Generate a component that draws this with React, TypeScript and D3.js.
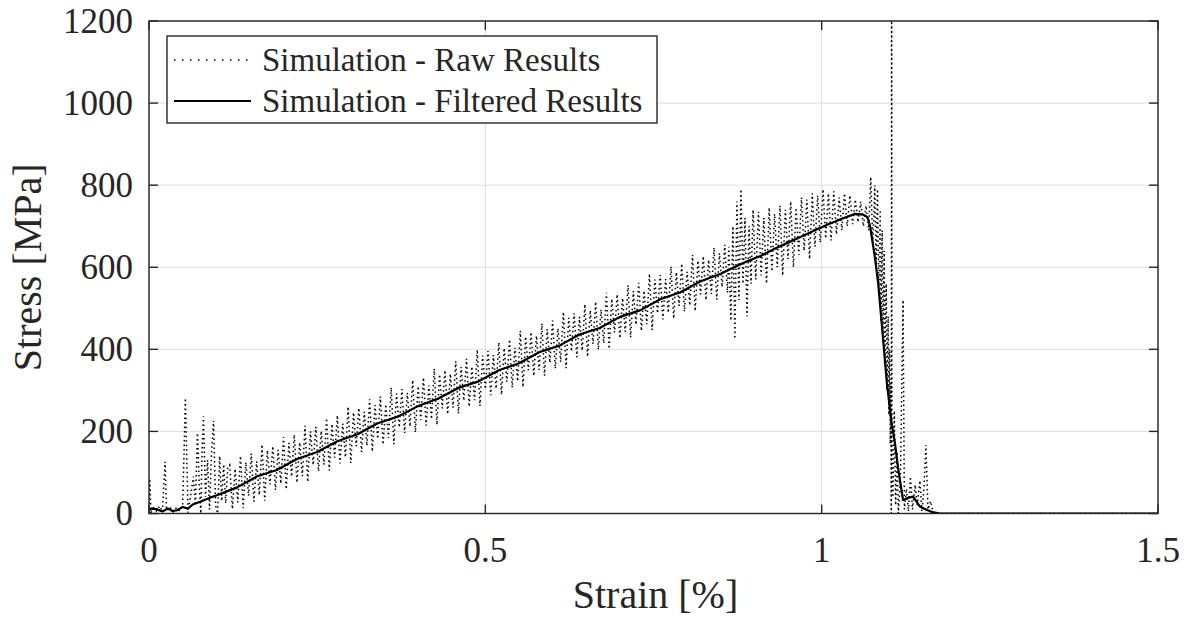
import * as d3 from "d3";

const width = 1184;
const height = 618;
const margin = { top: 21, right: 26, bottom: 104.5, left: 149 };
const font = "'Liberation Serif', 'Times New Roman', serif";
const ink = "#262626";

const xTicks = [0, 0.5, 1, 1.5];
const yTicks = [0, 200, 400, 600, 800, 1000, 1200];

// raw simulation output: [strain %, stress MPa]
const rawResults: [number, number][] = [
  [0.0, 2], [0.001, 85], [0.003, 3], [0.007, 14], [0.011, 6], [0.016, 18],
  [0.02, 4], [0.022, 70], [0.024, 126], [0.026, 8], [0.031, 16], [0.036, 4],
  [0.041, 14], [0.046, 6], [0.05, 20], [0.052, 140], [0.054, 281], [0.056, 150],
  [0.058, 2], [0.062, 45], [0.066, 90], [0.069, 20], [0.072, 196], [0.075, 60],
  [0.077, 0], [0.079, 160], [0.081, 237], [0.084, 40], [0.087, 130], [0.09, 10],
  [0.093, 150], [0.096, 226], [0.099, 20], [0.102, 0], [0.105, 140], [0.108, 30],
  [0.111, 120], [0.114, 25], [0.117, 110],
  [0.12, 118], [0.124, 11], [0.128, 109], [0.132, 27], [0.136, 140], [0.14, 13],
  [0.144, 125], [0.148, 43], [0.152, 146], [0.156, 29], [0.16, 127], [0.164, 45],
  [0.168, 168], [0.172, 31], [0.176, 154], [0.18, 71], [0.184, 164], [0.188, 57],
  [0.192, 155], [0.196, 73], [0.2, 186], [0.204, 59], [0.208, 172], [0.212, 90],
  [0.216, 192], [0.22, 75], [0.224, 173], [0.228, 91], [0.232, 214], [0.236, 77],
  [0.24, 200], [0.244, 118], [0.248, 211], [0.252, 103], [0.256, 201], [0.26, 119],
  [0.264, 232], [0.268, 105], [0.272, 218], [0.276, 136], [0.28, 239], [0.284, 122],
  [0.288, 219], [0.292, 137], [0.296, 260], [0.3, 123], [0.304, 246], [0.308, 164],
  [0.312, 257], [0.316, 150], [0.32, 248], [0.324, 165], [0.328, 278], [0.332, 151],
  [0.336, 264], [0.34, 182], [0.344, 285], [0.348, 168], [0.352, 266], [0.356, 184],
  [0.36, 307], [0.364, 169], [0.368, 292], [0.372, 210], [0.376, 303], [0.38, 196],
  [0.384, 294], [0.388, 212], [0.392, 325], [0.396, 198], [0.4, 310], [0.404, 228],
  [0.408, 331], [0.412, 214], [0.416, 312], [0.42, 230], [0.424, 353], [0.428, 216],
  [0.432, 339], [0.436, 256], [0.44, 349], [0.444, 242], [0.448, 340], [0.452, 258],
  [0.456, 371], [0.46, 244], [0.464, 357], [0.468, 275], [0.472, 377], [0.476, 260],
  [0.48, 358], [0.484, 276], [0.488, 399], [0.492, 262], [0.496, 385], [0.5, 303],
  [0.504, 396], [0.508, 288], [0.512, 386], [0.516, 304], [0.52, 417], [0.524, 290],
  [0.528, 403], [0.532, 321], [0.536, 424], [0.54, 307], [0.544, 404], [0.548, 322],
  [0.552, 445], [0.556, 308], [0.56, 431], [0.564, 349], [0.568, 442], [0.572, 335],
  [0.576, 433], [0.58, 350], [0.584, 463], [0.588, 336], [0.592, 449], [0.596, 367],
  [0.6, 470], [0.604, 353], [0.608, 451], [0.612, 369], [0.616, 491], [0.62, 354],
  [0.624, 477], [0.628, 395], [0.632, 488], [0.636, 381], [0.64, 479], [0.644, 397],
  [0.648, 510], [0.652, 382], [0.656, 495], [0.66, 413], [0.664, 516], [0.668, 399],
  [0.672, 497], [0.676, 415], [0.68, 538], [0.684, 401], [0.688, 523], [0.692, 441],
  [0.696, 534], [0.7, 427], [0.704, 525], [0.708, 443], [0.712, 556], [0.716, 429],
  [0.72, 542], [0.724, 460], [0.728, 562], [0.732, 445], [0.736, 543], [0.74, 461],
  [0.744, 584], [0.748, 447], [0.752, 570], [0.756, 488], [0.76, 581], [0.764, 473],
  [0.768, 571], [0.772, 489], [0.776, 602], [0.78, 475], [0.784, 588], [0.788, 506],
  [0.792, 609], [0.796, 492], [0.8, 589], [0.804, 507], [0.808, 630], [0.812, 493],
  [0.816, 616], [0.82, 534], [0.824, 627], [0.828, 520], [0.832, 618], [0.836, 535],
  [0.84, 648], [0.844, 521], [0.848, 634], [0.852, 552], [0.856, 655], [0.86, 538],
  [0.862, 650], [0.865, 470], [0.868, 700], [0.871, 425], [0.874, 760], [0.877, 520],
  [0.88, 790], [0.883, 560], [0.886, 720], [0.889, 480], [0.892, 700], [0.895, 560],
  [0.898, 740], [0.902, 570], [0.906, 735], [0.91, 580], [0.914, 720], [0.918, 560],
  [0.922, 745], [0.926, 590], [0.93, 730], [0.934, 600], [0.938, 750], [0.942, 580],
  [0.946, 740], [0.95, 620], [0.954, 760], [0.958, 600], [0.962, 745], [0.966, 630],
  [0.97, 770], [0.974, 640], [0.978, 765], [0.982, 620], [0.986, 780], [0.99, 650],
  [0.994, 775], [0.998, 660], [1.002, 790], [1.006, 670], [1.01, 780], [1.014, 665],
  [1.018, 785], [1.022, 680], [1.026, 770], [1.03, 690], [1.034, 780], [1.038, 700],
  [1.042, 775], [1.046, 705], [1.05, 765], [1.054, 710], [1.058, 760], [1.062, 700],
  [1.066, 750], [1.07, 690], [1.073, 820], [1.076, 650], [1.079, 800], [1.081, 600],
  [1.083, 790], [1.085, 540], [1.087, 740], [1.088, 470], [1.09, 690], [1.091, 420],
  [1.093, 640], [1.094, 360], [1.096, 560], [1.097, 300], [1.099, 480], [1.1, 240],
  [1.101, 400], [1.102, 170], [1.103, 320], [1.1035, 0], [1.104, 1250], [1.1045, 200],
  [1.106, 40], [1.108, 250], [1.11, 20], [1.112, 150], [1.114, 0], [1.117, 80],
  [1.121, 520], [1.123, 10], [1.126, 60], [1.129, 5], [1.132, 90], [1.135, 10],
  [1.139, 70], [1.142, 20], [1.146, 80], [1.149, 5], [1.152, 60], [1.155, 167],
  [1.158, 10], [1.162, 30], [1.166, 0], [1.5, 0],
];

// filtered (smoothed) stress-strain curve
const filteredResults: [number, number][] = [
  [0.0, 8], [0.005, 12], [0.012, 10], [0.02, 5], [0.028, 12], [0.035, 6],
  [0.042, 8], [0.05, 16], [0.058, 12], [0.065, 22], [0.075, 28], [0.09, 38],
  [0.1, 44], [0.13, 63], [0.16, 90], [0.19, 106], [0.22, 133], [0.25, 150],
  [0.28, 176], [0.31, 193], [0.34, 220], [0.37, 236], [0.4, 262], [0.43, 280],
  [0.46, 306], [0.49, 322], [0.52, 349], [0.55, 366], [0.58, 393], [0.61, 409],
  [0.64, 436], [0.67, 452], [0.7, 479], [0.73, 495], [0.76, 522], [0.79, 539],
  [0.82, 566], [0.85, 584], [0.87, 600], [0.89, 615], [0.91, 628], [0.93, 645],
  [0.95, 660], [0.97, 675], [0.99, 690], [1.01, 705], [1.03, 718], [1.05, 730],
  [1.062, 728], [1.068, 722], [1.072, 700], [1.079, 626], [1.084, 561],
  [1.091, 431], [1.097, 317], [1.104, 220], [1.109, 171], [1.114, 106],
  [1.121, 33], [1.128, 38], [1.136, 41], [1.146, 17], [1.155, 10], [1.163, 4],
  [1.176, 0], [1.5, 0],
];

const legendItems = [
  { label: "Simulation - Raw Results", dash: "1.5 6.5", w: 1.3 },
  { label: "Simulation - Filtered Results", dash: undefined, w: 2.2 },
];

export default function App() {
  const innerW = width - margin.left - margin.right;
  const innerH = height - margin.top - margin.bottom;

  const x = d3.scaleLinear().domain([0, 1.5]).range([0, innerW]);
  const y = d3.scaleLinear().domain([0, 1200]).range([innerH, 0]);

  const line = d3
    .line<[number, number]>()
    .x((d) => x(d[0]))
    .y((d) => y(d[1]));

  return (
    <svg
      width={width}
      height={height}
      style={{ position: "absolute", left: 0, top: 0, background: "#fff" }}
      fontFamily={font}
    >
      <defs>
        <clipPath id="plot-area">
          <rect x={0} y={0} width={innerW} height={innerH} />
        </clipPath>
      </defs>
      <g transform={`translate(${margin.left},${margin.top})`}>
        {/* grid */}
        {xTicks.map((t) => (
          <line key={`gx${t}`} x1={x(t)} x2={x(t)} y1={0} y2={innerH} stroke="#dedede" strokeWidth={1} />
        ))}
        {yTicks.map((t) => (
          <line key={`gy${t}`} x1={0} x2={innerW} y1={y(t)} y2={y(t)} stroke="#dedede" strokeWidth={1} />
        ))}

        {/* series */}
        <g clipPath="url(#plot-area)">
          <path
            d={line(rawResults) ?? ""}
            fill="none"
            stroke="#000"
            strokeWidth={1.5}
            strokeDasharray="1.5 3"
          />
          <path
            d={line(filteredResults) ?? ""}
            fill="none"
            stroke="#000"
            strokeWidth={2.2}
            strokeLinejoin="round"
          />
        </g>

        {/* box and ticks */}
        <rect x={0} y={0} width={innerW} height={innerH} fill="none" stroke={ink} strokeWidth={1.4} />
        {xTicks.map((t) => (
          <g key={`tx${t}`}>
            <line x1={x(t)} x2={x(t)} y1={innerH} y2={innerH - 9} stroke={ink} strokeWidth={1.4} />
            <line x1={x(t)} x2={x(t)} y1={0} y2={9} stroke={ink} strokeWidth={1.4} />
            <text x={x(t)} y={innerH + 48} textAnchor="middle" fontSize={35} fill={ink}>
              {String(t)}
            </text>
          </g>
        ))}
        {yTicks.map((t) => (
          <g key={`ty${t}`}>
            <line x1={0} x2={9} y1={y(t)} y2={y(t)} stroke={ink} strokeWidth={1.4} />
            <line x1={innerW} x2={innerW - 9} y1={y(t)} y2={y(t)} stroke={ink} strokeWidth={1.4} />
            <text x={-16} y={y(t)} dy="0.34em" textAnchor="end" fontSize={35} fill={ink}>
              {t}
            </text>
          </g>
        ))}

        {/* axis labels */}
        <text x={innerW / 2 + 2} y={innerH + 94} textAnchor="middle" fontSize={40} fill={ink}>
          Strain [%]
        </text>
        <text
          transform={`translate(${-108},${innerH / 2}) rotate(-90)`}
          textAnchor="middle"
          fontSize={40}
          fill={ink}
        >
          Stress [MPa]
        </text>

        {/* legend */}
        <g transform="translate(18,15)">
          <rect x={0} y={0} width={490} height={87} fill="#fff" stroke={ink} strokeWidth={1.4} />
          {legendItems.map((d, i) => (
            <g key={d.label} transform={`translate(0,${24 + i * 41})`}>
              <line
                x1={7}
                x2={84}
                y1={0}
                y2={0}
                stroke="#000"
                strokeWidth={d.w}
                strokeDasharray={d.dash}
              />
              <text x={95} y={0} dy="0.33em" fontSize={33} fill={ink}>
                {d.label}
              </text>
            </g>
          ))}
        </g>
      </g>
    </svg>
  );
}
